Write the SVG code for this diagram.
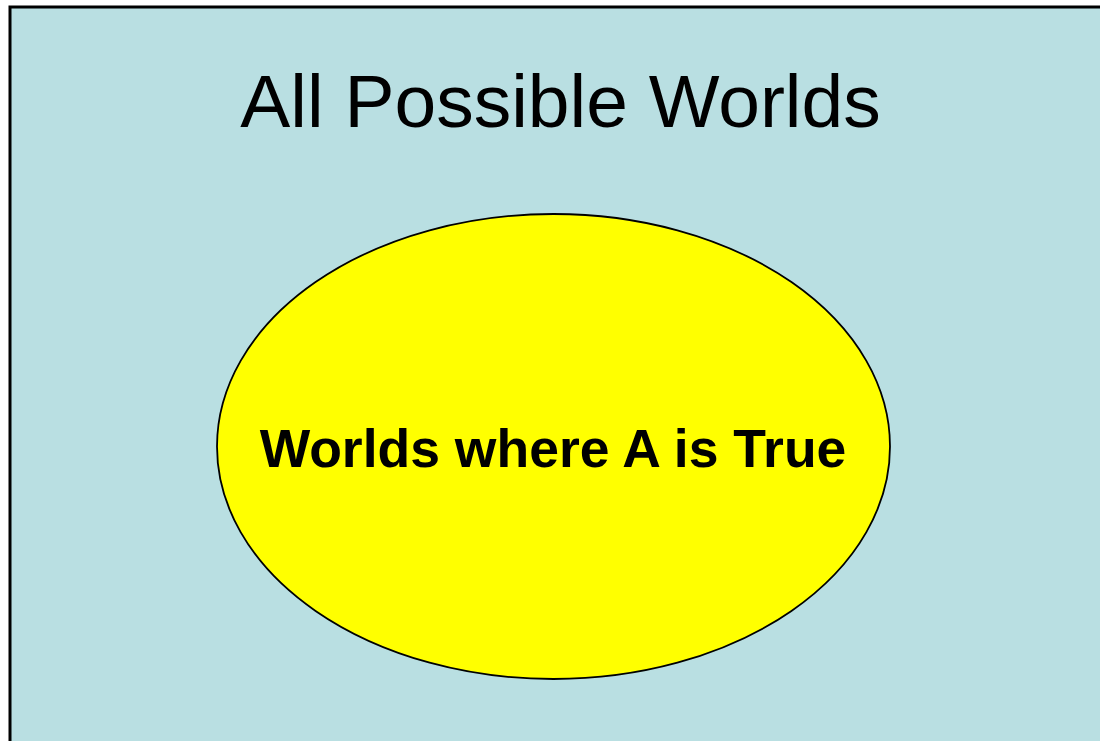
<svg xmlns="http://www.w3.org/2000/svg" width="1100" height="741" viewBox="0 0 1100 741">
<style>
.title{font-family:"Liberation Sans",Arial,sans-serif;font-size:75px;fill:#000}
.label{font-family:"Liberation Sans",Arial,sans-serif;font-size:53.5px;font-weight:bold;fill:#000}
</style>
<rect width="1100" height="741" fill="#ffffff"/>
<g id="universe">
<rect x="10" y="7" width="1100" height="750" fill="#B9DFE2" stroke="#000" stroke-width="3"/>
<text class="title" x="560.5" y="127" text-anchor="middle">All Possible Worlds</text>
</g>
<g id="setA">
<ellipse cx="553.5" cy="446.5" rx="336.5" ry="232.5" fill="#FFFF00" stroke="#000" stroke-width="1.8"/>
<text class="label" x="553" y="467" text-anchor="middle">Worlds where A is True</text>
</g>
<g id="connectors"/>
</svg>
